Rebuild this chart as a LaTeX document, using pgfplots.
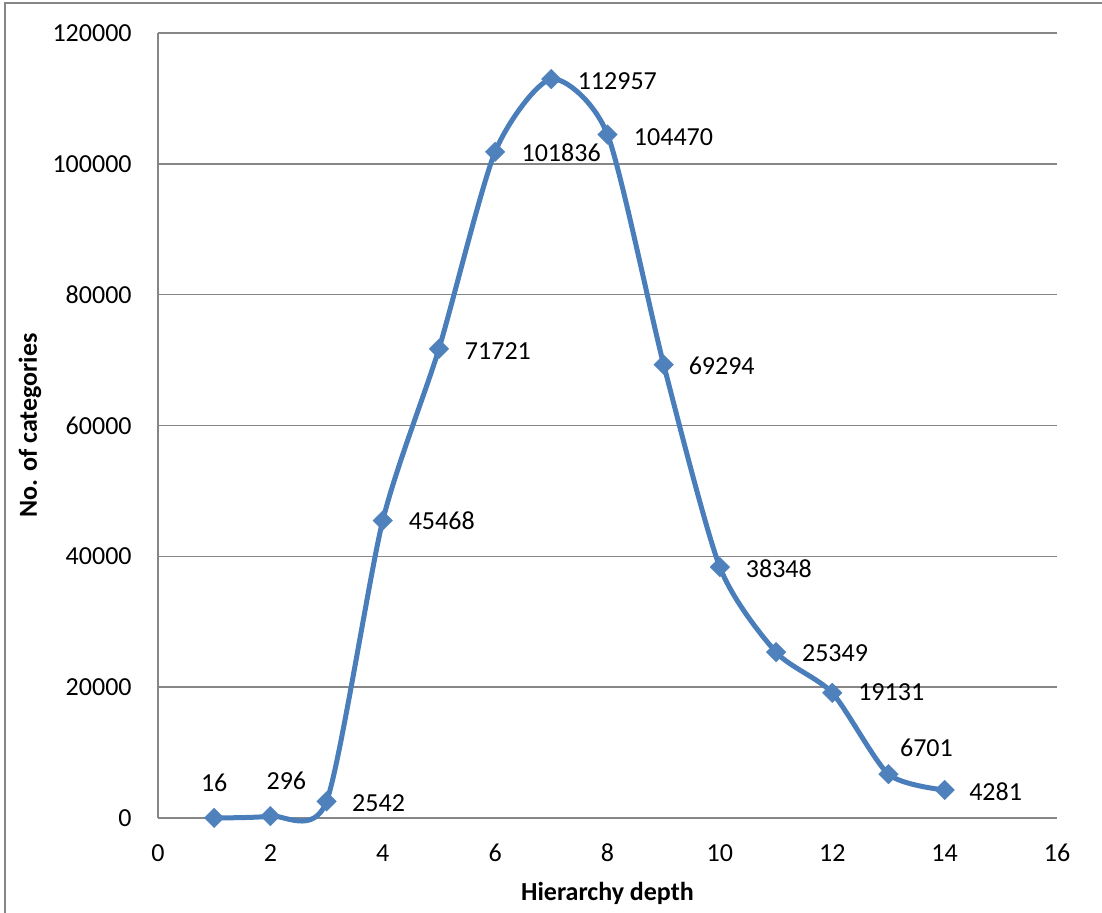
\documentclass[border=0pt]{standalone}
\usepackage{pgfplots}
\pgfplotsset{compat=1.18}
\usepackage{pgfplotstable}
\usepackage{fontspec}
\setmainfont{Carlito}
\definecolor{seriesblue}{RGB}{74,126,187}
\definecolor{markblue}{RGB}{79,129,189}
\definecolor{gridgray}{RGB}{134,134,134}

% depth, number of categories, label offset (pt) from the marker
\pgfplotstableread{
depth count dx dy
1 16 0 17.5
2 296 8 17.5
3 2542 26 -1
4 45468 29.5 0
5 71721 29.5 -1
6 101836 33 -0.5
7 112957 33 -1
8 104470 33 -1.5
9 69294 29 -0.5
10 38348 29.5 -1
11 25349 29.5 -0.5
12 19131 29.5 0.5
13 6701 19 13
14 4281 25.5 -1
}\depthdata

\begin{document}
\fontsize{13}{15.6}\selectfont
\begin{tikzpicture}
\path[use as bounding box] (0,0) rectangle (551pt,456.5pt);
\draw[gridgray, line width=0.75pt] (2.5pt,-10pt) -- (2.5pt,455pt) -- (560pt,455pt);
\begin{axis}[
  at={(79pt,47.5pt)}, anchor=south west,
  scale only axis, width=449.5pt, height=392.5pt,
  xmin=0, xmax=16, ymin=0, ymax=120000,
  xtick={0,2,...,16}, ytick={0,20000,...,120000},
  scaled y ticks=false,
  /pgf/number format/fixed,
  /pgf/number format/precision=0,
  /pgf/number format/assume math mode=true,
  /pgf/number format/1000 sep={},
  clip=false,
  axis x line*=bottom, axis y line*=left,
  axis line style={-, gridgray, line width=0.75pt},
  major tick length=0pt,
  ymajorgrids, grid style={gridgray, line width=0.75pt},
  yticklabel style={anchor=east, inner sep=0pt, xshift=-13pt},
  xticklabel style={anchor=center, inner sep=0pt, yshift=-17.5pt},
  xlabel={\bfseries Hierarchy depth},
  ylabel={\bfseries No. of categories},
  xlabel style={at={(axis description cs:0.5,0)}, anchor=center, inner sep=0pt, yshift=-37.5pt},
  ylabel style={at={(axis description cs:0,0.5)}, anchor=center, inner sep=0pt, yshift=64pt},
]
\addplot[smooth, tension=0.42, color=seriesblue, line width=2.5pt,
  mark=square*, mark size=3.5pt,
  mark options={rotate=45, fill=markblue, draw=markblue, line width=0.1pt, solid},
  nodes near coords,
  point meta=explicit symbolic,
  visualization depends on={\thisrow{dx} \as \ldx},
  visualization depends on={\thisrow{dy} \as \ldy},
  nodes near coords style={anchor=center, inner sep=0pt, text=black, xshift=\ldx pt, yshift=\ldy pt},
] table[x=depth, y=count, meta=count] {\depthdata};
\end{axis}
\end{tikzpicture}
\end{document}
